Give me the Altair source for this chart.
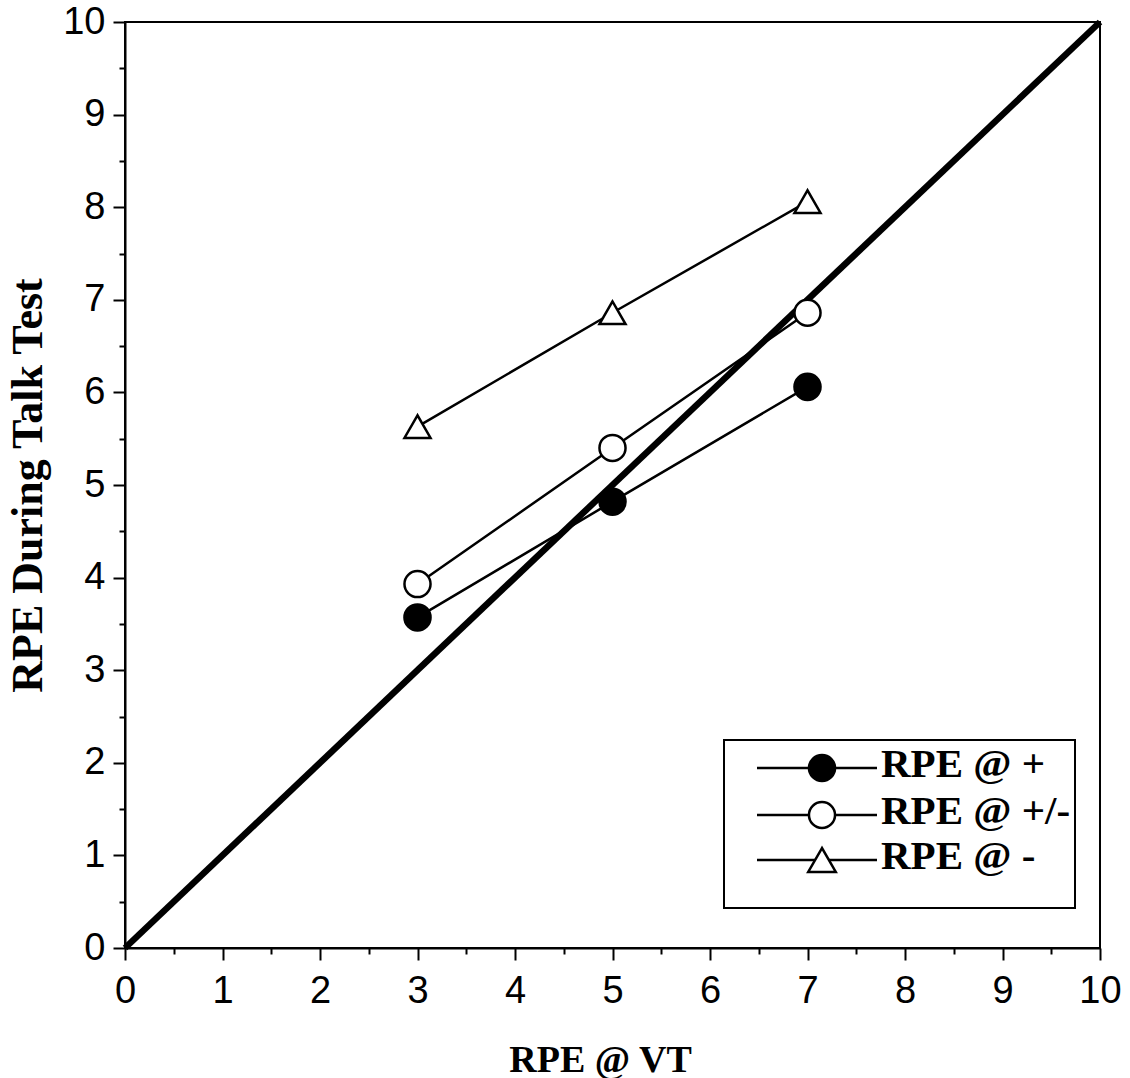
import altair as alt
import pandas as pd

# ---- data ----
series_names = ["RPE @ +", "RPE @ +/-", "RPE @ -"]
rpe_vt = [3, 5, 7]
rpe_plus = [3.57, 4.82, 6.06]
rpe_plusminus = [3.93, 5.40, 6.86]
rpe_minus = [5.63, 6.86, 8.06]
identity_x = [0, 10]
identity_y = [0, 10]
major_ticks = [0, 1, 2, 3, 4, 5, 6, 7, 8, 9, 10]
minor_ticks = [0.5, 1.5, 2.5, 3.5, 4.5, 5.5, 6.5, 7.5, 8.5, 9.5]

shapes = ["circle", "circle", "triangle-up"]
fills = ["black", "white", "white"]
sizes = [680, 680, 760]

rows = []
for name, vals in zip(series_names, [rpe_plus, rpe_plusminus, rpe_minus]):
    for xv, yv in zip(rpe_vt, vals):
        rows.append({"series": name, "x": xv, "y": yv})
df = pd.DataFrame(rows)
diag = pd.DataFrame({"x": identity_x, "y": identity_y})

W, H = 975, 926
TICK_FONT = "Liberation Sans"
TITLE_FONT = "Liberation Serif"

xscale = alt.Scale(domain=[0, 10], nice=False, zero=False)
yscale = alt.Scale(domain=[0, 10], nice=False, zero=False)

x_major = alt.Axis(values=major_ticks, orient="bottom", tickSize=12, tickWidth=2,
                   tickColor="black", domainColor="black", domainWidth=2,
                   labelFont=TICK_FONT, labelFontSize=38, labelColor="black",
                   labelPadding=12, labelFlush=False, grid=False,
                   title="RPE @ VT", titleFont=TITLE_FONT, titleFontSize=38,
                   titleFontWeight="bold", titleColor="black",
                   titleX=475, titleY=112, titleBaseline="middle", titleAlign="center")
y_major = alt.Axis(values=major_ticks, orient="left", tickSize=12, tickWidth=2,
                   tickColor="black", domainColor="black", domainWidth=2,
                   labelFont=TICK_FONT, labelFontSize=38, labelColor="black",
                   labelPadding=8, labelFlush=False, grid=False,
                   title="RPE During Talk Test", titleFont=TITLE_FONT, titleFontSize=44,
                   titleFontWeight="bold", titleColor="black", titleAngle=-90,
                   titleX=-97, titleY=463, titleBaseline="middle", titleAlign="center")
x_minor = alt.Axis(values=minor_ticks, orient="bottom", tickSize=6, tickWidth=2,
                   tickColor="black", labels=False, domain=False, grid=False, title=None)
y_minor = alt.Axis(values=minor_ticks, orient="left", tickSize=6, tickWidth=2,
                   tickColor="black", labels=False, domain=False, grid=False, title=None)

identity = alt.Chart(diag).mark_line(color="black", strokeWidth=6.5).encode(
    x=alt.X("x:Q", scale=xscale, axis=x_minor),
    y=alt.Y("y:Q", scale=yscale, axis=y_minor),
)

lines = alt.Chart(df).mark_line(color="black", strokeWidth=2.5).encode(
    x=alt.X("x:Q", scale=xscale, axis=x_major),
    y=alt.Y("y:Q", scale=yscale, axis=y_major),
    detail="series:N",
)

points = alt.Chart(df).mark_point(filled=False, stroke="black", strokeWidth=2.5, opacity=1).encode(
    x=alt.X("x:Q", scale=xscale, axis=None),
    y=alt.Y("y:Q", scale=yscale, axis=None),
    shape=alt.Shape("series:N", scale=alt.Scale(domain=series_names, range=shapes), legend=None),
    fill=alt.Fill("series:N", scale=alt.Scale(domain=series_names, range=fills), legend=None),
    size=alt.Size("series:N", scale=alt.Scale(domain=series_names, range=sizes), legend=None),
)

# ---- manual legend box (layout in pixels) ----
box_l, box_r, box_t, box_b = 599, 950, 718, 886
leg_line_l, leg_line_r, leg_mark_x, leg_text_x = 632, 752, 697, 756
leg_rows_y = [746, 793, 838]

one = pd.DataFrame({"k": [0]})
legend_layers = [
    alt.Chart(one).mark_rect(fill="white", stroke="black", strokeWidth=2).encode(
        x=alt.value(box_l), x2=alt.value(box_r), y=alt.value(box_t), y2=alt.value(box_b))
]
for name, shp, fl, sz, ry in zip(series_names, shapes, fills, sizes, leg_rows_y):
    lab = pd.DataFrame({"label": [name]})
    legend_layers.append(
        alt.Chart(lab).mark_rule(color="black", strokeWidth=2.5).encode(
            x=alt.value(leg_line_l), x2=alt.value(leg_line_r), y=alt.value(ry)))
    legend_layers.append(
        alt.Chart(lab).mark_point(shape=shp, fill=fl, filled=True, stroke="black",
                                  strokeWidth=2.5, size=sz, opacity=1).encode(
            x=alt.value(leg_mark_x), y=alt.value(ry)))
    legend_layers.append(
        alt.Chart(lab).mark_text(font=TITLE_FONT, fontSize=41, fontWeight="bold",
                                 align="left", baseline="middle", color="black").encode(
            x=alt.value(leg_text_x), y=alt.value(ry - 3), text="label:N"))

chart = alt.layer(identity, lines, points, *legend_layers).resolve_axis(
    x="independent", y="independent"
).properties(
    width=W, height=H,
    autosize=alt.AutoSizeParams(type="none"),
    padding={"left": 125, "top": 22, "right": 30, "bottom": 130},
    background="white",
).configure_view(stroke="black", strokeWidth=2)

chart.save("out.html", embed_options={"renderer": "svg", "actions": False})
